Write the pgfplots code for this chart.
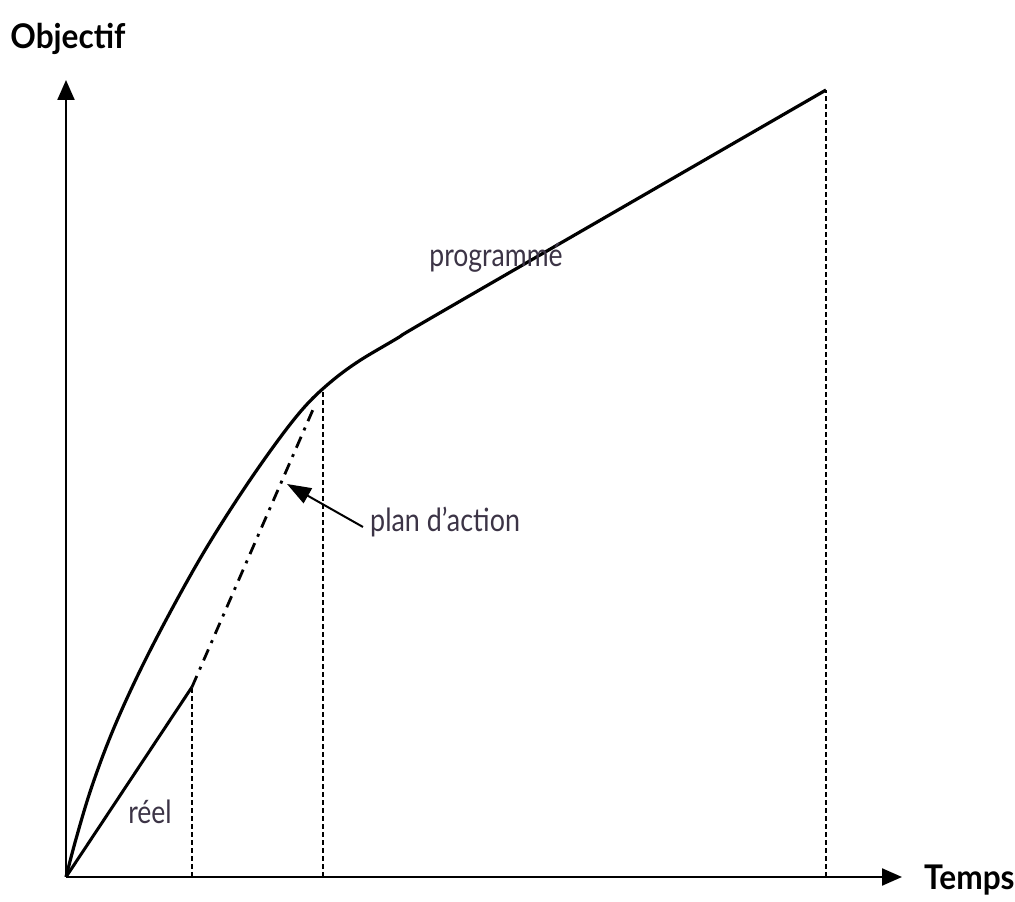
\documentclass[border=0pt]{standalone}
\usepackage{pgfplots}
\pgfplotsset{compat=1.18}
\usepackage{fontspec}
\setmainfont{Lato}
\usetikzlibrary{arrows.meta}
\definecolor{txt}{RGB}{60,52,70}
\begin{document}
\begin{tikzpicture}
\begin{axis}[
  x=1pt, y=1pt,
  xmin=0, xmax=836, ymin=0, ymax=797,
  axis lines=left,
  axis line style={line width=2.2pt, -{Triangle[length=20pt,width=17pt]}},
  xtick=\empty, ytick=\empty,
  clip=false,
]
% programme
\addplot[line width=3.2pt, smooth, tension=0.6, line join=round] coordinates {
 (0,0) (10,38) (25,88) (45,142) (70,198) (100,257) (135,320) (170,376) (205,427) (235,466) (260,491) (290,514) (330,538) (384,570) (760,787)
};
% reel
\addplot[line width=3.0pt] coordinates {(0,0) (126,190)};
% plan d'action
\addplot[line width=2.8pt, dash pattern=on 12pt off 7pt on 3pt off 7pt] coordinates {(126,190) (249,472)};
% verticals
\addplot[line width=1.3pt, dash pattern=on 5pt off 3pt] coordinates {(126,0) (126,190)};
\addplot[line width=1.3pt, dash pattern=on 5pt off 3pt] coordinates {(257,0) (257,488)};
\addplot[line width=1.3pt, dash pattern=on 5pt off 3pt] coordinates {(760,0) (760,787)};
% arrow
\draw[line width=2pt, -{Triangle[length=24pt,width=17pt]}] (axis cs:297,350) -- (axis cs:221,393);
% labels
\node[anchor=west, text=txt, inner sep=0pt] at (axis cs:304,355) {\fontsize{32}{38}\selectfont\scalebox{0.84}[1]{plan d'action}};
\node[text=txt, inner sep=0pt] at (axis cs:430,619) {\fontsize{32}{38}\selectfont\scalebox{0.83}[1]{programmé}};
\node[text=txt, inner sep=0pt] at (axis cs:84,65) {\fontsize{32}{38}\selectfont\scalebox{0.83}[1]{réel}};
\node[anchor=west, inner sep=0pt] at (axis cs:858,-3) {\fontsize{34}{40}\selectfont\bfseries\scalebox{0.93}[1]{Temps}};
\node[inner sep=0pt] at (axis cs:2,838) {\fontsize{34}{40}\selectfont\bfseries\scalebox{0.93}[1]{Objectif}};
\coordinate (bl) at (axis cs:-66,-25);
\coordinate (tr) at (axis cs:949,877);
\end{axis}
\pgfresetboundingbox
\path[use as bounding box] (bl) rectangle (tr);
\end{tikzpicture}
\end{document}
